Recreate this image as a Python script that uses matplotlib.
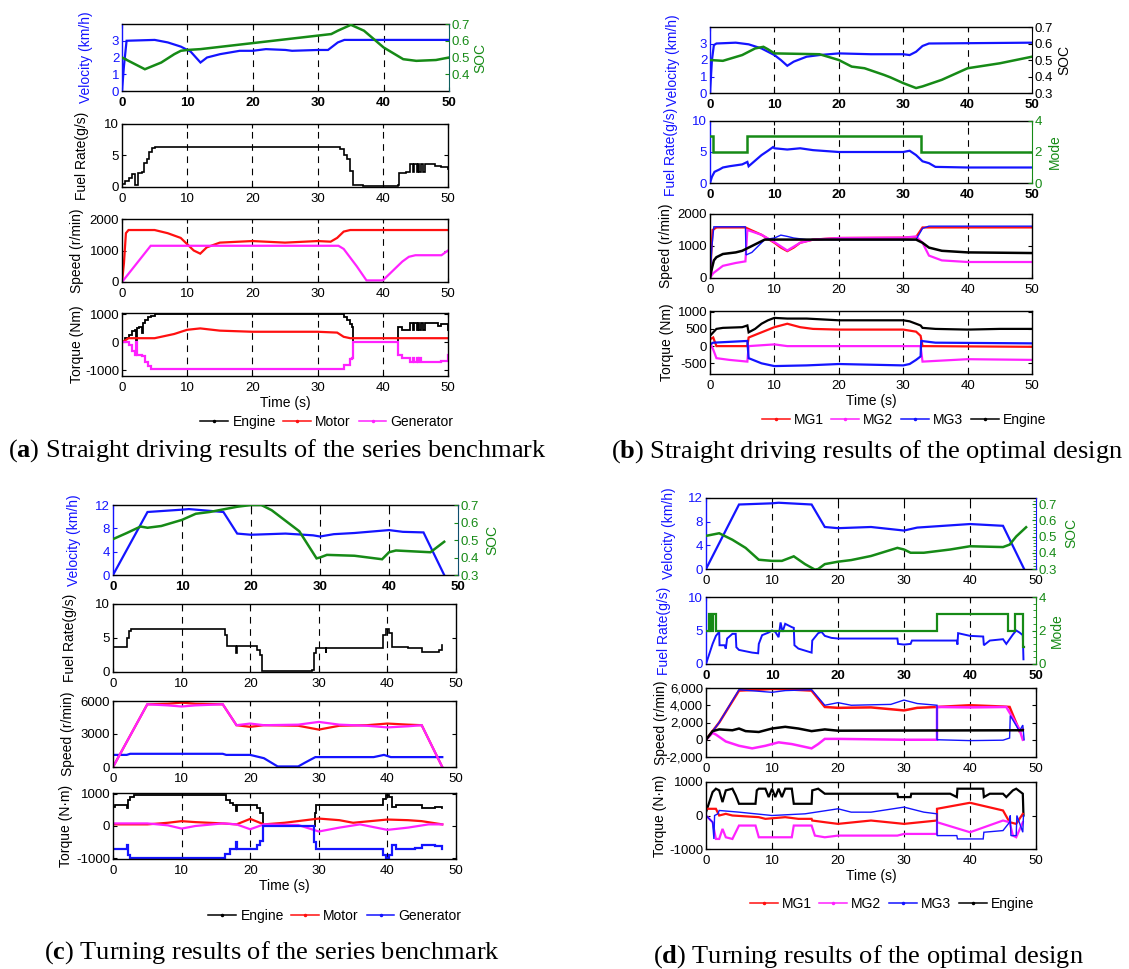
import matplotlib
matplotlib.use("Agg")
import matplotlib.pyplot as plt
from matplotlib.lines import Line2D
from matplotlib.ticker import FuncFormatter, AutoMinorLocator

plt.rcParams['font.family'] = ['Liberation Sans', 'DejaVu Sans']
plt.rcParams['axes.unicode_minus'] = False
plt.rcParams['mathtext.fontset'] = 'custom'
plt.rcParams['mathtext.rm'] = 'Liberation Serif'
plt.rcParams['mathtext.bf'] = 'Liberation Serif:bold'

W, H = 1129, 969

BLUE = "#1414ff"
GREEN = "#168a16"
RED = "#ff1010"
MAG = "#ff22ff"
BLACK = "#000000"

# ---------------- (a) straight driving, series benchmark ----------------
A_VEL = [(0, 0), (0.3, 1.5), (0.7, 3.0), (5, 3.05), (7, 2.9), (9, 2.65), (10.5, 2.35), (12, 1.7),
         (13, 2.0), (15, 2.2), (18, 2.4), (20, 2.4), (22, 2.5), (25, 2.45), (26, 2.4), (30, 2.45),
         (31.5, 2.45), (33, 2.9), (34, 3.05), (50, 3.05)]
A_SOC = [(0, 0.50), (1.5, 0.47), (3.5, 0.43), (6, 0.47), (8, 0.52), (9, 0.54), (10, 0.545), (12, 0.55),
         (32, 0.64), (33, 0.66), (35, 0.695), (37, 0.66), (40, 0.56), (43, 0.49), (45, 0.48),
         (48, 0.485), (50, 0.50)]
A_FUEL = [(0, 0.5), (0.5, 1), (1, 1.5), (1.6, 2), (2, 0.3), (2.5, 2.3), (3, 2.4), (3.3, 3.8), (3.8, 4.5),
          (4.2, 5.5), (4.6, 6.2), (5, 6.4), (33, 6.3), (33.5, 6), (34, 5), (34.5, 4.5), (35, 2.5),
          (35.5, 0.3), (37, 0.1), (42.3, 0.3), (42.5, 2.3), (43.5, 2.4), (44.2, 3.6), (44.6, 2.4),
          (44.8, 3.6), (45.2, 2.4), (45.4, 3.6), (45.6, 2.4), (45.8, 3.6), (46.2, 2.4), (46.4, 3.6),
          (48, 3.4), (49, 3.2), (50, 2.8)]
A_SPD_MOTOR = [(0, 0), (0.3, 600), (0.6, 1550), (1, 1650), (5, 1650), (7, 1550), (9, 1400), (10, 1200),
               (11, 1000), (12, 900), (13, 1100), (15, 1250), (20, 1300), (25, 1250), (30, 1300),
               (32, 1280), (33, 1400), (34, 1600), (35, 1650), (50, 1650)]
A_SPD_GEN = [(0, 0), (4.4, 1150), (33.2, 1150), (34, 1050), (36, 500), (37.5, 50), (40, 50), (41, 250),
             (43, 650), (44, 800), (45, 850), (49, 850), (50, 1000)]
A_TRQ_ENG = [(0, 0), (0.5, 150), (1, 250), (1.5, 400), (2, 450), (2.1, 0), (2.3, 500), (2.6, 550),
             (3, 350), (3.2, 700), (3.6, 800), (4, 900), (4.5, 950), (5, 1000), (33.5, 1000), (34, 900),
             (34.5, 800), (35, 650), (35.3, 550), (35.5, 0), (42.3, 0), (42.4, 550), (43, 450),
             (44.2, 700), (44.6, 450), (44.8, 700), (45.2, 450), (45.4, 700), (45.6, 450), (45.8, 700),
             (46.2, 450), (46.4, 700), (48, 700), (48.5, 600), (49, 650), (50, 450)]
A_TRQ_MOTOR = [(0, 0), (1, 150), (5, 150), (8, 300), (10, 450), (12, 500), (15, 420), (20, 380),
               (25, 380), (30, 380), (33, 350), (34, 200), (35, 150), (50, 150)]
A_TRQ_GEN = [(0, 0), (1, -100), (1.5, -300), (2, -450), (2.1, 0), (2.3, -450), (3, -500), (3.5, -700),
             (4, -850), (4.5, -950), (33.5, -950), (34, -800), (35, -600), (35.3, -550), (35.5, 0),
             (42.3, 0), (42.4, -450), (43, -550), (44.2, -700), (44.6, -550), (44.8, -700),
             (45.2, -550), (45.4, -700), (45.6, -550), (45.8, -700), (48, -700), (49, -650), (50, -450)]

# ---------------- (b) straight driving, optimal design ----------------
B_VEL = [(0, 0), (0.3, 2), (0.6, 2.9), (1, 3.0), (4, 3.05), (6, 2.95), (8, 2.7), (10, 2.3), (11, 2.0),
         (12, 1.65), (13, 1.9), (15, 2.2), (17, 2.3), (20, 2.4), (25, 2.35), (30, 2.35), (31, 2.3),
         (32, 2.5), (33, 2.85), (34, 3.0), (50, 3.05)]
B_SOC = [(0, 0.50), (2, 0.495), (5, 0.53), (7, 0.57), (8.3, 0.58), (9, 0.565), (10, 0.54), (17, 0.535),
         (20, 0.50), (22, 0.46), (24, 0.45), (27, 0.41), (28, 0.395), (30, 0.36), (32, 0.33),
         (33, 0.34), (36, 0.38), (40, 0.45), (45, 0.48), (50, 0.52)]
B_FUEL = [(0, 0), (0.3, 1.0), (0.7, 1.8), (1.5, 2.2), (2, 2.5), (3, 2.7), (5, 3.0), (5.8, 3.4), (6, 2.7),
          (7, 3.6), (8, 4.5), (9, 5.2), (9.8, 5.8), (10, 5.6), (12, 5.4), (14, 5.6), (16, 5.3),
          (20, 5.0), (25, 5.0), (30, 5.0), (31, 5.2), (32, 4.5), (33, 3.5), (34, 3.2), (35, 2.6),
          (40, 2.5), (50, 2.5)]
B_MODE = [(0, 3), (0.5, 2), (5.8, 3), (32.7, 2), (50, 2)]
B_SPD_MG1 = [(0, 0), (0.4, 1500), (1, 1580), (5.5, 1580), (5.8, 1550), (8, 1350), (10, 1100), (11, 950),
             (12, 840), (13, 950), (14, 1100), (16, 1200), (20, 1250), (30, 1260), (32, 1280),
             (33, 1580), (50, 1580)]
B_SPD_MG2 = [(0, 0), (0.5, 150), (2, 380), (4, 470), (5.5, 520), (5.8, 1500), (8, 1350), (10, 1120),
             (12, 860), (14, 1100), (16, 1200), (20, 1250), (30, 1260), (32, 1300), (33, 1100),
             (34, 700), (36, 550), (40, 500), (50, 500)]
B_SPD_MG3 = [(0, 0), (0.3, 1000), (0.6, 1600), (5.5, 1600), (5.6, 720), (6.5, 800), (7.5, 1000),
             (8.5, 1200), (10, 1250), (11, 1340), (12, 1300), (13, 1250), (15, 1200), (32, 1200),
             (33, 1550), (34, 1620), (50, 1620)]
B_SPD_ENG = [(0, 0), (0.3, 300), (0.6, 550), (1, 650), (2, 750), (4, 800), (5, 850), (6, 950), (7, 1050),
             (8, 1150), (8.5, 1200), (32, 1200), (33, 1100), (34, 950), (36, 850), (40, 800), (50, 780)]
B_TRQ_MG1 = [(0, 200), (0.5, 250), (1, 0), (5.8, 0), (6, 250), (8, 400), (10, 550), (12, 650),
             (14, 550), (16, 500), (20, 480), (30, 480), (32, 420), (32.7, 300), (33, 0), (50, -20)]
B_TRQ_MG2 = [(0, 100), (0.5, -100), (1, -350), (3, -400), (5.8, -450), (6, 0), (10, 50), (12, 0),
             (32.7, 0), (33, -450), (40, -380), (50, -400)]
B_TRQ_MG3 = [(0, 50), (0.5, 100), (5.8, 150), (6, -350), (8, -500), (10, -580), (15, -560), (20, -520),
             (30, -560), (31, -520), (32, -400), (32.7, -300), (32.8, 150), (35, 100), (50, 80)]
B_TRQ_ENG = [(0, 300), (0.5, 400), (1, 500), (2, 530), (5, 550), (5.8, 600), (6, 400), (7, 500),
             (8, 650), (9, 750), (10, 820), (12, 800), (15, 800), (20, 750), (25, 750), (30, 750),
             (31, 720), (32, 650), (32.7, 600), (33, 530), (35, 500), (40, 480), (45, 500), (50, 500)]

# ---------------- (c) turning, series benchmark ----------------
C_VEL = [(0, 0), (5, 10.8), (10, 11.2), (11, 11.3), (16, 10.8), (18, 7.1), (20, 6.9), (25, 7.1),
         (29, 6.8), (30, 6.6), (32, 7.0), (35, 7.2), (40, 7.7), (42, 7.4), (45, 7.3), (48, 0)]
C_SOC = [(0, 0.505), (2, 0.54), (4, 0.577), (5, 0.57), (7, 0.58), (10, 0.615), (12, 0.65), (14, 0.66),
         (18, 0.69), (20, 0.70), (21.5, 0.70), (23, 0.67), (25, 0.61), (27, 0.55), (29.5, 0.395),
         (30, 0.40), (31, 0.415), (35, 0.41), (39, 0.39), (40, 0.43), (41, 0.44), (46, 0.43),
         (48, 0.49)]
C_FUEL = [(0, 3.7), (2, 3.7), (2.1, 5), (2.3, 6), (2.6, 6.3), (16, 6.3), (16.3, 5.5), (16.6, 3.8),
          (18, 2.8), (18.1, 3.8), (20.5, 3.8), (21, 3.2), (21.5, 2.5), (21.7, 0.2), (23, 0.1),
          (29, 0.3), (29.3, 2.8), (29.6, 3.5), (31, 2.8), (31.1, 3.5), (39, 3.5), (39.3, 5.5),
          (39.8, 6.3), (40.3, 5.8), (40.6, 3.7), (43, 3.6), (45, 3.0), (47.5, 3.2), (48, 4.0)]
C_SPD_MOTOR = [(0, 0), (5, 5700), (8, 5750), (10, 5850), (12, 5750), (16, 5700), (18, 3800), (20, 3650),
               (22, 3800), (27, 3750), (30, 3400), (33, 3750), (37, 3800), (40, 3950), (43, 3850),
               (45, 3800), (48, 0)]
C_SPD_OTHER = [(0, 0), (5, 5700), (8, 5600), (10, 5500), (12, 5600), (16, 5700), (18, 3800), (20, 3950),
               (22, 3800), (27, 3850), (30, 4100), (33, 3850), (37, 3750), (40, 3600), (43, 3700),
               (45, 3800), (48, 0)]
C_SPD_GEN = [(0, 1100), (2, 1100), (2.5, 1200), (16, 1200), (16.5, 1100), (20, 1100), (22, 800),
             (24, 50), (27, 50), (28, 400), (29.5, 900), (38, 900), (39.5, 1100), (40.5, 900), (48, 900)]
C_TRQ_ENG = [(0, 600), (0.3, 650), (1.8, 650), (2, 550), (2.2, 800), (2.5, 900), (3, 950), (16, 950),
             (16.4, 800), (17, 700), (17.5, 650), (18, 450), (18.1, 650), (20.5, 650), (21, 550),
             (21.5, 400), (21.8, 0), (29.2, 0), (29.4, 400), (29.6, 650), (39, 650), (39.3, 850),
             (39.8, 950), (40.3, 900), (40.7, 600), (41.2, 650), (44, 650), (45, 550), (47, 600),
             (48, 550)]
C_TRQ_MOTOR = [(0, 50), (5, 50), (8, 100), (10, 150), (12, 120), (16, 80), (18, 50), (20, 220), (22, 50),
               (25, 100), (30, 230), (33, 180), (35, 100), (40, 200), (43, 180), (45, 150), (48, 50)]
C_TRQ_OTHER = [(0, 80), (5, 80), (8, 20), (10, -80), (12, 0), (16, 80), (18, 50), (20, -100), (22, 50),
               (27, 30), (30, -170), (33, -50), (36, 50), (40, -120), (43, -50), (46, 50), (48, 50)]
C_TRQ_GEN = [(0, -700), (1.8, -700), (2, -580), (2.2, -900), (2.5, -980), (16, -980), (16.3, -850),
             (17, -700), (18, -500), (18.1, -700), (20.5, -700), (21, -600), (21.5, -450), (21.8, 0),
             (29, 0), (29.3, -500), (29.6, -700), (39, -700), (39.3, -900), (39.8, -980), (40.3, -900),
             (40.7, -600), (41.2, -700), (44, -680), (45, -600), (47, -620), (48, -700)]

# ---------------- (d) turning, optimal design ----------------
D_VEL = [(0, 0), (5, 10.9), (10, 11.1), (11, 11.2), (16, 10.9), (18, 7.1), (20, 6.9), (25, 7.1),
         (30, 6.5), (32, 7.0), (40, 7.6), (45, 7.3), (48.2, 0)]
D_SOC = [(0, 0.504), (2, 0.52), (4, 0.48), (6, 0.43), (8, 0.357), (10, 0.35), (11.5, 0.35),
         (13.3, 0.378), (15, 0.33), (16.5, 0.296), (17, 0.30), (18, 0.33), (20, 0.345), (22, 0.355),
         (25, 0.38), (29, 0.43), (30, 0.42), (31, 0.40), (33, 0.40), (37, 0.42), (40, 0.44),
         (45, 0.435), (46, 0.45), (47, 0.50), (48.5, 0.557)]
D_FUEL = [(0, 0), (0.5, 1.5), (1, 3), (1.5, 4.2), (2, 4.8), (2.05, 2.8), (2.8, 2.8), (3, 2.3), (3.2, 3.8),
          (4, 4.5), (4.5, 4.5), (4.6, 2.5), (5, 2.1), (7, 1.7), (7.9, 1.6), (8, 3.0), (8.5, 4.3),
          (9.5, 4.7), (10, 5.0), (10.5, 4.8), (11, 4.0), (11.3, 6.2), (11.6, 4.8), (12, 6.0),
          (13, 5.5), (13.3, 5.4), (13.4, 2.8), (14, 2.3), (16, 1.7), (16.1, 3.5), (17, 4.6),
          (17.5, 4.8), (18, 4.2), (19, 3.9), (20, 3.8), (29, 3.8), (29.1, 3.0), (30, 2.9), (31, 3.0),
          (31.2, 3.5), (38, 3.5), (38.1, 2.9), (38.2, 4.6), (40, 4.2), (42, 4.1), (42.1, 2.8),
          (43, 3.5), (45, 3.7), (45.5, 3.0), (46.5, 4.4), (47, 5.0), (47.5, 4.7), (48, 4.3), (48.1, 0.7)]
D_MODE = [(0, 2), (0.4, 3), (0.8, 2), (1.0, 3), (1.5, 2), (35, 3), (45.8, 2), (46.8, 3), (48, 1), (48.2, 1)]
D_SPD_MG1 = [(0, 0), (1, 1000), (2, 2000), (5, 5700), (8, 5800), (10, 5900), (12, 5850), (16, 5700),
             (18, 3800), (20, 3700), (25, 3750), (30, 3400), (32, 3700), (35, 3800), (40, 4000),
             (45, 3850), (46, 3800), (47.5, 1000), (48, 1200)]
D_SPD_MG2 = [(0, 0), (1, 800), (1.5, 600), (3, -200), (5, -700), (7, -1000), (9, -700), (11, -300),
             (13, -500), (16, -1000), (17, -500), (18, 100), (20, 100), (30, 0), (35, 0), (35, 3800),
             (40, 3750), (45.5, 3800), (46.5, 2500), (47.5, 1200), (48, 0)]
D_SPD_MG3 = [(0, 0), (2, 2000), (5, 5800), (10, 5500), (12, 5700), (16, 5800), (18, 4000), (20, 4300),
             (22, 4000), (28, 4100), (30, 4600), (32, 4200), (35, 4000), (35, 0), (40, -100), (45, -50),
             (46, 200), (46.1, 2800), (47.5, 1000), (48, 1700), (48.2, 0)]
D_SPD_ENG = [(0, 0), (1, 1000), (2, 1200), (4, 1100), (5, 1300), (6, 1000), (8, 900), (10, 1300),
             (12, 1500), (14, 1300), (16, 1000), (18, 1200), (20, 1050), (48, 1100)]
D_TRQ_MG1 = [(0, 200), (1.5, 200), (2, 0), (3, 50), (4, 0), (8, -50), (9, -100), (12, -50), (14, -100),
             (16, -100), (16.1, -150), (18, -200), (20, -250), (25, -150), (30, -250), (35, -150),
             (35, 200), (40, 380), (45, 150), (46, -200), (47, -250), (48, 50)]
D_TRQ_MG2 = [(0, 0), (1, -200), (1.5, -700), (2, -700), (2.5, -400), (3, -650), (4, -700), (5, -300),
             (7.5, -300), (8, -650), (13, -650), (13.3, -300), (16, -300), (16.5, -600), (18, -650),
             (20, -600), (29, -600), (30, -550), (35, -550), (35, -200), (40, -500), (45, -150),
             (46, -200), (46.5, -600), (47, -650), (48, -200)]
D_TRQ_MG3 = [(0, 0), (1, -200), (1.2, -700), (1.3, 0), (1.8, 50), (2, 150), (5, 100), (10, 0), (15, 50),
             (20, 200), (22, 100), (25, 100), (30, 250), (33, 100), (35, 50), (35, -600), (38, -600),
             (38.1, -700), (42, -700), (42.1, -500), (45, -450), (46, -200), (46.1, 0), (46.2, -600),
             (47, -600), (47.1, 0), (48, -500), (48.1, 0)]
D_TRQ_ENG = [(0, 100), (0.5, 400), (1, 700), (1.5, 800), (2, 750), (2.5, 400), (3, 750), (4, 800),
             (4.5, 600), (5, 350), (7.5, 350), (7.7, 750), (8, 800), (9, 800), (9.5, 550), (10, 800),
             (10.5, 550), (11, 800), (11.5, 550), (12, 800), (13, 800), (13.3, 350), (16, 350),
             (16.1, 750), (17, 800), (18, 650), (29, 650), (29.1, 550), (31, 550), (31.1, 650),
             (37, 650), (38, 550), (38.1, 800), (42, 800), (42.1, 550), (43, 650), (45, 650),
             (45.5, 550), (46.5, 750), (47, 800), (48, 650), (48.1, 0)]

CAPTIONS = [r"($\mathbf{a}$) Straight driving results of the series benchmark",
            r"($\mathbf{b}$) Straight driving results of the optimal design",
            r"($\mathbf{c}$) Turning results of the series benchmark",
            r"($\mathbf{d}$) Turning results of the optimal design"]

fig = plt.figure(figsize=(W / 100, H / 100), dpi=100)


def box(x0, y0, x1, y1):
    return [x0 / W, 1 - y1 / H, (x1 - x0) / W, (y1 - y0) / H]


def line(ax, pts, color, lw=1.6, step=False):
    t, v = zip(*pts)
    ax.plot(t, v, color=color, lw=lw, drawstyle='steps-post' if step else 'default',
            solid_joinstyle='miter')


def make_ax(rect, ylim, yticks, bold_x=False, twin=False):
    ax = fig.add_axes(box(*rect))
    ax.set_xlim(0, 50)
    ax.set_xticks(range(0, 51, 10))
    ax.set_ylim(*ylim)
    ax.set_yticks(yticks)
    ax.tick_params(direction='in', length=3, labelsize=9.5, top=True, right=not twin, pad=2)
    ax.tick_params(axis='x', pad=4.5)
    for s in ax.spines.values():
        s.set_linewidth(1.0)
    for x in (10, 20, 30, 40):
        ax.axvline(x, color='k', ls=(0, (6, 5)), lw=0.8, zorder=0)
    if bold_x:
        for lab in ax.get_xticklabels():
            lab.set_fontweight('bold')
    return ax


def add_twin(ax, ylim, yticks, color, spine_color, minor=False):
    ax2 = ax.twinx()
    ax2.set_ylim(*ylim)
    ax2.set_yticks(yticks)
    ax2.tick_params(direction='in', length=3, labelsize=9.5, colors=color, pad=2)
    if minor:
        ax2.yaxis.set_minor_locator(AutoMinorLocator(5))
        ax2.tick_params(which='minor', direction='in', length=2, colors=color)
    ax.spines['right'].set_visible(False)
    for k in ('left', 'top', 'bottom'):
        ax2.spines[k].set_visible(False)
    ax2.spines['right'].set_color(spine_color)
    return ax2


def ylab(ax, text, xpx, color='k', right=False):
    ax.set_ylabel(text, color=color, fontsize=10)
    if right:
        ax.yaxis.set_label_position('right')
    l, b, w, h = ax.get_position().bounds
    ax.yaxis.set_label_coords((xpx / W - l) / w, 0.5)


def color_left(ax, color):
    ax.tick_params(axis='y', colors=color)
    ax.spines['left'].set_color(color)


def legend(names, colors, cx, cy):
    handles = [Line2D([], [], color=c, lw=1.1, marker='.', markersize=3) for c in colors]
    fig.legend(handles, names, loc='center', bbox_to_anchor=(cx / W, 1 - cy / H), ncol=len(names),
               frameon=False, fontsize=10, numpoints=1, handlelength=2.0, handletextpad=0.3,
               columnspacing=0.55, borderpad=0)


# ---------- panel (a) ----------
ax = make_ax((122, 24, 449, 91), (0, 4), [0, 1, 2, 3], bold_x=True, twin=True)
color_left(ax, BLUE)
line(ax, A_VEL, BLUE)
ylab(ax, "Velocity (km/h)", 93, BLUE)
ax2 = add_twin(ax, (0.3, 0.7), [0.4, 0.5, 0.6, 0.7], GREEN, "#0e5e5e")
line(ax2, A_SOC, GREEN, lw=1.8)
ylab(ax2, "SOC", 473, GREEN, right=True)

ax = make_ax((122, 124, 448, 187), (0, 10), [0, 5, 10])
line(ax, A_FUEL, BLACK, lw=1.2, step=True)
ylab(ax, "Fuel Rate(g/s)", 89)

ax = make_ax((122, 219, 448, 282), (0, 2000), [0, 1000, 2000])
line(ax, A_SPD_MOTOR, RED)
line(ax, A_SPD_GEN, MAG)
ylab(ax, "Speed (r/min)", 84)

ax = make_ax((122, 313, 448, 376), (-1200, 1050), [-1000, 0, 1000])
line(ax, A_TRQ_ENG, BLACK, lw=1.3, step=True)
line(ax, A_TRQ_MOTOR, RED)
line(ax, A_TRQ_GEN, MAG, step=True)
ylab(ax, "Torque (Nm)", 84)
ax.set_xlabel("Time (s)", fontsize=10, labelpad=1)
legend(["Engine", "Motor", "Generator"], [BLACK, RED, MAG], 327, 422)

# ---------- panel (b) ----------
ax = make_ax((710, 27, 1032, 93), (0, 4), [0, 1, 2, 3], bold_x=True, twin=True)
color_left(ax, BLUE)
line(ax, B_VEL, BLUE)
ylab(ax, "Velocity (km/h)", 680, BLUE)
ax2 = add_twin(ax, (0.3, 0.7), [0.3, 0.4, 0.5, 0.6, 0.7], BLACK, BLACK)
line(ax2, B_SOC, GREEN, lw=1.8)
ylab(ax2, "SOC", 1057, BLACK, right=True)

ax = make_ax((710, 121, 1032, 183), (0, 10), [0, 5, 10], bold_x=True, twin=True)
color_left(ax, BLUE)
line(ax, B_FUEL, BLUE)
ylab(ax, "Fuel Rate(g/s)", 678, BLUE)
ax2 = add_twin(ax, (0, 4), [0, 2, 4], GREEN, GREEN)
line(ax2, B_MODE, GREEN, lw=1.8, step=True)
ylab(ax2, "Mode", 1048, GREEN, right=True)

ax = make_ax((710, 214, 1032, 278), (0, 2000), [0, 1000, 2000])
line(ax, B_SPD_MG1, RED)
line(ax, B_SPD_MG2, MAG)
line(ax, B_SPD_MG3, BLUE, lw=1.0)
line(ax, B_SPD_ENG, BLACK, lw=1.8)
ylab(ax, "Speed (r/min)", 673)

ax = make_ax((710, 311, 1032, 374), (-810, 1020), [-500, 0, 500, 1000])
line(ax, B_TRQ_ENG, BLACK)
line(ax, B_TRQ_MG1, RED)
line(ax, B_TRQ_MG2, MAG)
line(ax, B_TRQ_MG3, BLUE)
ylab(ax, "Torque (Nm)", 674)
ax.set_xlabel("Time (s)", fontsize=10, labelpad=1)
legend(["MG1", "MG2", "MG3", "Engine"], [RED, MAG, BLUE, BLACK], 904, 420)

# ---------- panel (c) ----------
ax = make_ax((113, 505, 458, 575), (0, 12), [0, 4, 8, 12], bold_x=True, twin=True)
color_left(ax, BLUE)
line(ax, C_VEL, BLUE)
ylab(ax, "Velocity (km/h)", 81, BLUE)
ax2 = add_twin(ax, (0.3, 0.7), [0.3, 0.4, 0.5, 0.6, 0.7], GREEN, "#0e4e6e")
line(ax2, C_SOC, GREEN, lw=1.8)
ylab(ax2, "SOC", 485, GREEN, right=True)

ax = make_ax((113, 604, 456, 672), (0, 10), [0, 5, 10])
line(ax, C_FUEL, BLACK, lw=1.2, step=True)
ylab(ax, "Fuel Rate(g/s)", 77)

ax = make_ax((113, 701, 456, 767), (0, 6000), [0, 3000, 6000])
line(ax, C_SPD_GEN, BLUE)
line(ax, C_SPD_MOTOR, RED)
line(ax, C_SPD_OTHER, MAG)
ylab(ax, "Speed (r/min)", 75)

ax = make_ax((113, 793, 456, 859), (-1020, 1020), [-1000, 0, 1000])
line(ax, C_TRQ_ENG, BLACK, lw=1.3, step=True)
line(ax, C_TRQ_MOTOR, RED)
line(ax, C_TRQ_OTHER, MAG)
line(ax, C_TRQ_GEN, BLUE, step=True)
ylab(ax, "Torque (N\u00b7m)", 73)
ax.set_xlabel("Time (s)", fontsize=10, labelpad=1)
legend(["Engine", "Motor", "Generator"], [BLACK, RED, BLUE], 335, 916)

# ---------- panel (d) ----------
ax = make_ax((706, 498, 1036, 569), (0, 12), [0, 4, 8, 12], twin=True)
color_left(ax, BLUE)
line(ax, D_VEL, BLUE)
ylab(ax, "Velocity (km/h)", 676, BLUE)
ax2 = add_twin(ax, (0.3, 0.737), [0.3, 0.4, 0.5, 0.6, 0.7], GREEN, BLUE, minor=True)
line(ax2, D_SOC, GREEN, lw=1.8)
ylab(ax2, "SOC", 1064, GREEN, right=True)

ax = make_ax((706, 597, 1036, 664), (0, 10), [0, 5, 10], bold_x=True, twin=True)
color_left(ax, BLUE)
line(ax, D_FUEL, BLUE, lw=1.4)
ylab(ax, "Fuel Rate(g/s)", 671, BLUE)
ax2 = add_twin(ax, (0, 4), [0, 2, 4], GREEN, GREEN, minor=True)
line(ax2, D_MODE, GREEN, lw=1.6, step=True)
ylab(ax2, "Mode", 1050, GREEN, right=True)

ax = make_ax((706, 688, 1036, 757), (-2000, 6000), [-2000, 0, 2000, 4000, 6000])
ax.yaxis.set_major_formatter(FuncFormatter(lambda v, p: f"{v:,.0f}"))
line(ax, D_SPD_MG1, RED, lw=1.8)
line(ax, D_SPD_MG2, MAG, lw=1.8)
line(ax, D_SPD_MG3, BLUE, lw=1.0)
line(ax, D_SPD_ENG, BLACK, lw=1.8)
ylab(ax, "Speed (r/min)", 668)

ax = make_ax((706, 782, 1036, 849), (-1000, 1000), [-1000, 0, 1000])
line(ax, D_TRQ_ENG, BLACK)
line(ax, D_TRQ_MG1, RED)
line(ax, D_TRQ_MG2, MAG)
line(ax, D_TRQ_MG3, BLUE, lw=1.0)
ylab(ax, "Torque (N\u00b7m)", 667)
ax.set_xlabel("Time (s)", fontsize=10, labelpad=1)
legend(["MG1", "MG2", "MG3", "Engine"], [RED, MAG, BLUE, BLACK], 892, 904)

# ---------- captions ----------
for text, cx, cy in zip(CAPTIONS, [277, 867, 272, 868], [451, 452, 953, 957]):
    fig.text(cx / W, 1 - cy / H, text, ha='center', va='center', fontsize=19,
             family='Liberation Serif')

fig.savefig("out.png", dpi=100)
